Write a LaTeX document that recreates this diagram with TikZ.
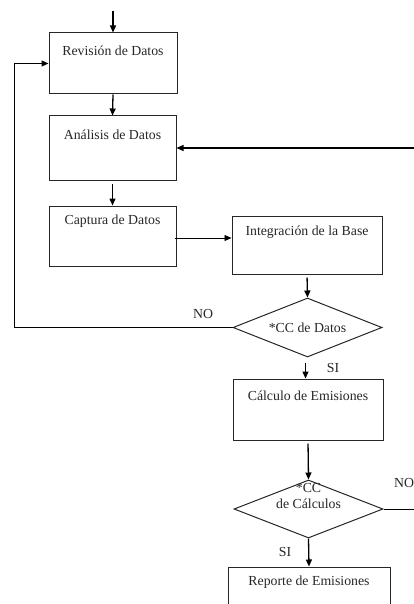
\documentclass[tikz,border=0pt]{standalone}
\usepackage{fontspec}
\setmainfont{Liberation Serif}
\usetikzlibrary{arrows.meta,shapes.geometric}
\begin{document}
\begin{tikzpicture}[x=1pt,y=-1pt,
  every node/.style={font=\fontsize{13.8}{15.5}\selectfont, text=black!85},
  box/.style={draw=black!85, line width=1pt, rectangle, inner sep=0pt},
  dia/.style={draw=black!85, line width=1pt, diamond, inner sep=0pt, aspect=2.5},
  arr/.style={line width=1.3pt, -{Triangle[length=7pt,width=6pt]}},
  ln/.style={line width=1pt},
  lbl/.style={inner sep=0pt}]
\useasboundingbox (0,0) rectangle (414,604);
% boxes
\node[box, minimum width=128pt, minimum height=61pt, label={[lbl,anchor=center,yshift=-18pt]north:Revisión de Datos}] (rev) at (113,63.5) {};
\node[box, minimum width=127pt, minimum height=64pt, label={[lbl,anchor=center,yshift=-19pt]north:Análisis de Datos}] (ana) at (112.5,148) {};
\node[box, minimum width=127pt, minimum height=60pt, label={[lbl,anchor=center,yshift=-16pt]north:Captura de Datos}] (cap) at (112.5,236) {};
\node[box, minimum width=150pt, minimum height=58pt, label={[lbl,anchor=center,yshift=-17pt]north:Integración de la Base}] (int) at (307,245) {};
\node[dia, minimum width=149pt, minimum height=59pt, label={[lbl,anchor=center]center:*CC de Datos}] (d1) at (307.5,327.5) {};
\node[box, minimum width=150pt, minimum height=61pt, label={[lbl,anchor=center,yshift=-17pt]north:Cálculo de Emisiones}] (calc) at (308,409.5) {};
\node[dia, minimum width=149pt, minimum height=58pt, label={[lbl,anchor=center,yshift=13pt,align=center]center:*CC\\de Cálculos}] (d2) at (308.5,509) {};
\node[box, minimum width=162pt, minimum height=60pt, label={[lbl,anchor=center,yshift=-16pt]north:Reporte de Emisiones}] (rep) at (309,597) {};
% free ends
\coordinate (top) at (113,11);
\coordinate (rin) at (414,148);
\coordinate (lc) at (14,327.5);
\coordinate (rout) at (414,509);
% connectors
\draw[arr] (top) -- (rev.north);
\draw[arr] (rev.south) -- (ana.north);
\draw[arr] (rin) -- (ana.east);
\draw[arr, shorten <=3pt] (ana.south) -- (cap.north);
\draw[line width=0.8pt, -{Triangle[length=7pt,width=6pt]}, shorten <=-2pt] ([yshift=-2pt]cap.east) -- ([yshift=-2pt]cap.east -| int.west);
\draw[arr, shorten <=3pt] (int.south) -- (d1.north);
\draw[ln, -{Triangle[length=7pt,width=6pt]}] (d1.west) -- (lc) -- (lc |- rev.west) -- (rev.west);
\draw[arr, shorten <=5pt] ([xshift=-2pt]d1.south) -- ([xshift=-2pt]d1.south |- calc.north);
\draw[arr, shorten <=3pt] (calc.south) -- (d2.north);
\draw[ln] (d2.east) -- (rout);
\draw[arr] (d2.south) -- (rep.north);
% labels
\node[lbl] (no1) at (203,314) {NO};
\node[lbl] (si1) at (333,368) {SI};
\node[lbl] (no2) at (404,483) {NO};
\node[lbl] (si2) at (285,552) {SI};
\end{tikzpicture}
\end{document}
